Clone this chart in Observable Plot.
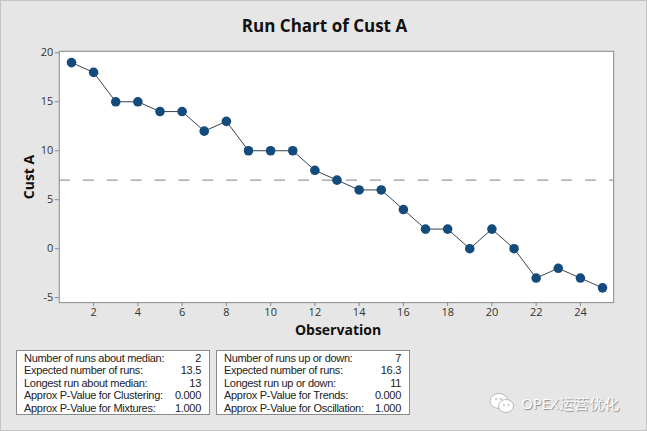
<!DOCTYPE html>
<html>
<head>
<meta charset="utf-8">
<script src="https://cdn.jsdelivr.net/npm/d3@7"></script>
<script src="https://cdn.jsdelivr.net/npm/@observablehq/plot@0.6"></script>
<style>
  body { margin: 0; background: #e6e6e6; }
  #chart { position: relative; width: 647px; height: 431px; background: #e6e6e6; box-sizing: border-box; border: 1px solid #c4c4c4; overflow: hidden; font-family: "Open Sans", "Noto Sans", sans-serif; }
  .abs { position: absolute; }
  #title { left: 0; width: 647px; top: 13px; text-align: center; font-size: 17px; font-weight: bold; color: #111; }
  #ylab { left: 27px; top: 176px; transform: translate(-50%, -50%) rotate(-90deg); font-size: 14px; font-weight: bold; color: #111; white-space: nowrap; }
  #xlab { left: 337px; top: 328px; transform: translate(-50%, -50%); font-size: 14px; font-weight: bold; color: #111; }
  .box { top: 349px; height: 65px; width: 194px; border: 1px solid #8a8a8a; background: #fff; box-sizing: border-box; padding: 1px 8px 0 7px; font-family: "Liberation Sans", Arial, sans-serif; font-size: 11px; color: #222; letter-spacing: -0.3px; }
  .row { display: flex; justify-content: space-between; white-space: nowrap; height: 12.4px; }
  .row span { display: inline-block; line-height: 12.4px; height: 12.4px; }
  #wm { left: 488px; top: 391px; display: flex; align-items: center; gap: 6px; color: #fff; font-size: 15px; text-shadow: 1px 1px 1px #888; }
</style>
</head>
<body>
<div id="chart">
  <div id="title" class="abs">Run Chart of Cust A</div>
</div>
<script>
const observation = [1,2,3,4,5,6,7,8,9,10,11,12,13,14,15,16,17,18,19,20,21,22,23,24,25];
const custA = [19,18,15,15,14,14,12,13,10,10,10,8,7,6,6,4,2,2,0,2,0,-3,-2,-3,-4];
const median = 7;
const xTicks = [2,4,6,8,10,12,14,16,18,20,22,24];
const yTicks = [-5,0,5,10,15,20];
const leftLabels = ["Number of runs about median:", "Expected number of runs:", "Longest run about median:", "Approx P-Value for Clustering:", "Approx P-Value for Mixtures:"];
const leftValues = ["2", "13.5", "13", "0.000", "1.000"];
const rightLabels = ["Number of runs up or down:", "Expected number of runs:", "Longest run up or down:", "Approx P-Value for Trends:", "Approx P-Value for Oscillation:"];
const rightValues = ["7", "16.3", "11", "0.000", "1.000"];

const data = observation.map((o, i) => ({obs: o, val: custA[i]}));

const plot = Plot.plot({
  width: 647,
  height: 340,
  marginLeft: 59,
  marginRight: 32,
  marginTop: 51,
  marginBottom: 37,
  style: { background: "transparent", fontSize: "11px", fontFamily: "'Open Sans', 'Noto Sans', sans-serif", color: "#333" },
  x: { domain: [0.45, 25.5], label: null },
  y: { domain: [-5.5, 20.15], label: null },
  marks: [
    Plot.frame({ fill: "white", stroke: "none" }),
    Plot.ruleY([median], { stroke: "#999", strokeWidth: 1.2, strokeDasharray: "11,13" }),
    Plot.line(data, { x: "obs", y: "val", stroke: "#1f2d3b", strokeWidth: 0.9 }),
    Plot.dot(data, { x: "obs", y: "val", r: 4.8, fill: "#134b7c", stroke: "none" }),
    Plot.frame({ stroke: "#999", strokeWidth: 1.2 }),
    Plot.axisX(xTicks, { tickSize: 4, tickPadding: 2, stroke: "#888", fill: "#333", label: null, tickFormat: d => String(d) }),
    Plot.axisY(yTicks, { tickSize: 4, tickPadding: 2, stroke: "#888", fill: "#333", label: null, tickFormat: d => String(d) })
  ]
});
plot.style.position = "absolute";
plot.style.left = "-1px";
plot.style.top = "-1px";
const chart = document.getElementById("chart");
chart.appendChild(plot);

const ylab = document.createElement("div");
ylab.id = "ylab"; ylab.className = "abs"; ylab.textContent = "Cust A";
chart.appendChild(ylab);
const xlab = document.createElement("div");
xlab.id = "xlab"; xlab.className = "abs"; xlab.textContent = "Observation";
chart.appendChild(xlab);

function makeBox(left, labels, values) {
  const box = document.createElement("div");
  box.className = "abs box";
  box.style.left = left + "px";
  labels.forEach((l, i) => {
    const r = document.createElement("div");
    r.className = "row";
    const a = document.createElement("span"); a.textContent = l;
    const b = document.createElement("span"); b.textContent = values[i];
    r.appendChild(a); r.appendChild(b);
    box.appendChild(r);
  });
  chart.appendChild(box);
}
makeBox(15, leftLabels, leftValues);
makeBox(215, rightLabels, rightValues);

const wm = document.createElement("div");
wm.id = "wm"; wm.className = "abs";
wm.innerHTML = '<svg width="26" height="22" viewBox="0 0 26 22"><ellipse cx="10" cy="9" rx="9" ry="7.5" fill="#fff" stroke="#aaa" stroke-width="0.8"/><ellipse cx="17" cy="14" rx="7.5" ry="6.5" fill="#fff" stroke="#aaa" stroke-width="0.8"/><circle cx="7" cy="7" r="1" fill="#bbb"/><circle cx="12" cy="7" r="1" fill="#bbb"/><circle cx="15" cy="13" r="0.9" fill="#bbb"/><circle cx="19.5" cy="13" r="0.9" fill="#bbb"/></svg><span>OPEX运营优化</span>';
chart.appendChild(wm);
</script>
</body>
</html>
